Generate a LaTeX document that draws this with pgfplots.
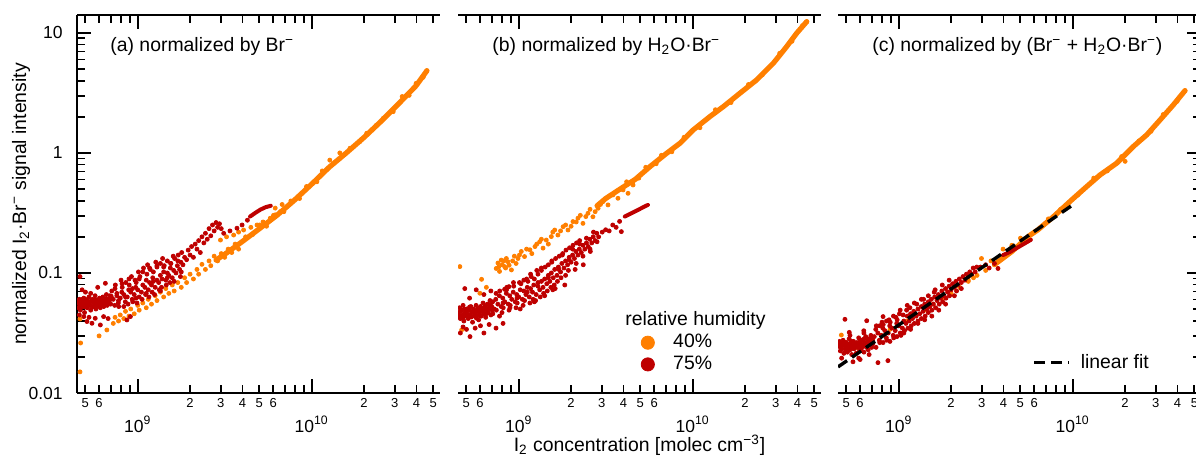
\documentclass[border=0pt]{standalone}
\usepackage{fontspec}
\setmainfont{Liberation Sans}
\usepackage{pgfplots}
\pgfplotsset{compat=1.18}
\definecolor{rh40}{HTML}{FF7F00}
\definecolor{rh75}{HTML}{BE0000}
\newcommand{\fs}{\fontsize{9.7}{11.6}\selectfont}
\newcommand{\mn}[1]{{\fontsize{6.5}{7}\selectfont\rule{0pt}{7.25pt}#1}}
\newcommand{\mj}[1]{{\fontsize{8.75}{10}\selectfont\rule{0pt}{19.5pt}10\textsuperscript{#1}}}
\tikzset{fitline/.style={black, line width=1.7pt, dash pattern=on 5.5pt off 3pt}}
\pgfplotsset{
  dots40/.style={only marks, mark=*, mark size=1pt, color=rh40, mark options={draw=none, fill=rh40}},
  dots75/.style={only marks, mark=*, mark size=1pt, color=rh75, mark options={draw=none, fill=rh75}},
  band/.style={mark=none, line width=2.6pt, line join=round, line cap=round},
}
\begin{document}
\begin{tikzpicture}
% ---------------- (a) ----------------
\begin{axis}[
    scale only axis, width=181.5pt, height=189pt,
    xmode=log, ymode=log,
    xmin=4.48e8, xmax=5.46e10, ymin=0.01, ymax=14.1,
    at={(38.5pt,32.5pt)}, clip marker paths=true,
    axis x line=box, axis y line=left,
    axis line style={-, line width=1pt},
    tick align=inside,
    major tick length=7pt, minor tick length=4pt,
    tick style={black, line width=0.9pt},
    xtick={1e9,1e10}, xticklabels={\mj{9},\mj{10}},
    minor xtick={7e8,8e8,9e8,7e9,8e9,9e9},
    extra x ticks={5e8,6e8,2e9,3e9,4e9,5e9,6e9,2e10,3e10,4e10,5e10},
    extra x tick labels={\mn{5},\mn{6},\mn{2},\mn{3},\mn{4},\mn{5},\mn{6},\mn{2},\mn{3},\mn{4},\mn{5}},
    extra x tick style={major tick length=4pt},
    xticklabel style={inner sep=0pt, anchor=north},
    ytick={0.01,0.1,1,10},
    minor ytick={0.02,0.03,0.04,0.05,0.06,0.07,0.08,0.09,0.2,0.3,0.4,0.5,0.6,0.7,0.8,0.9,2,3,4,5,6,7,8,9},
    yticklabels={0.01,0.1,1,10},
    yticklabel style={inner sep=0pt, xshift=-7pt, font=\fontsize{8.75}{10}\selectfont},
    ylabel={normalized I\textsubscript{2}·Br\textsuperscript{−} signal intensity},
    ylabel style={at={(axis description cs:-0.1543,0.5)}, anchor=center, font=\fs}]
\addplot[band, rh40] coordinates {(2.82e9,0.128) (3.16e9,0.143) (3.98e9,0.182) (5.01e9,0.234) (6.31e9,0.302) (7.94e9,0.403) (1.0e10,0.550) (1.26e10,0.760) (1.58e10,1.0) (2.0e10,1.349) (2.51e10,1.841) (3.16e10,2.570) (3.98e10,3.631) (4.59e10,4.842)};
\addplot[dots40] coordinates {
(4.66e8,0.0414) (4.70e8,0.0261) (4.66e8,0.0150) (6.00e8,0.0299) (6.65e8,0.0335)
(7.24e8,0.0380) (7.41e8,0.0427) (7.76e8,0.0398) (7.94e8,0.0447) (8.32e8,0.0417) (8.51e8,0.0479) (8.91e8,0.0437) (9.12e8,0.0501) (9.55e8,0.0457) (1.00e9,0.0537) (1.02e9,0.0490) (1.07e9,0.0562) (1.12e9,0.0513) (1.15e9,0.0603) (1.20e9,0.0550) (1.26e9,0.0646) (1.29e9,0.0589) (1.35e9,0.0692) (1.41e9,0.0631) (1.45e9,0.0741) (1.51e9,0.0676) (1.58e9,0.0794) (1.62e9,0.0708) (1.70e9,0.0832) (1.78e9,0.0759) (1.86e9,0.0912) (1.91e9,0.0832) (2.00e9,0.0977) (2.09e9,0.0891) (2.19e9,0.107) (2.24e9,0.0977) (2.34e9,0.118) (2.45e9,0.107) (2.57e9,0.126) (2.63e9,0.115) (2.75e9,0.138) (2.88e9,0.126) (3.02e9,0.145) (3.16e9,0.135) (3.31e9,0.158) (3.47e9,0.148) (3.63e9,0.174) (3.80e9,0.158)
(2.99e9,0.188) (3.24e9,0.200) (3.56e9,0.207) (3.80e9,0.219) (4.06e9,0.228) (4.47e9,0.240) (4.85e9,0.251) (5.25e9,0.266) (5.78e9,0.286) (6.17e9,0.305) (6.61e9,0.324) (6.17e9,0.347) (6.76e9,0.372)
(4.17e9,0.200) (4.57e9,0.209) (5.01e9,0.251) (5.50e9,0.245) (6.03e9,0.302) (6.92e9,0.324) (7.59e9,0.398) (8.51e9,0.417) (9.33e9,0.525) (1.07e10,0.575) (1.15e10,0.708) (1.27e10,0.871) (1.45e10,1.0) (1.66e10,1.094) (1.89e10,1.242) (2.07e10,1.459) (2.36e10,1.710) (2.58e10,1.945) (2.94e10,2.208) (3.31e10,2.951) (3.63e10,3.02) (3.98e10,3.80) (4.37e10,4.27) (4.59e10,4.84)};
\addplot[dots75] coordinates {
(4.52e8,0.0562) (4.57e8,0.0513) (4.62e8,0.0603) (4.68e8,0.0490) (4.73e8,0.0550) (4.79e8,0.0575) (4.84e8,0.0525) (4.90e8,0.0617) (4.95e8,0.0468) (5.01e8,0.0550) (5.07e8,0.0589) (5.13e8,0.0513) (5.19e8,0.0562) (5.25e8,0.0631) (5.31e8,0.0537) (5.37e8,0.0490) (5.43e8,0.0575) (5.50e8,0.0603) (5.56e8,0.0525) (5.62e8,0.0550) (5.69e8,0.0646) (5.75e8,0.0501) (5.82e8,0.0562) (5.89e8,0.0589) (5.96e8,0.0537) (6.03e8,0.0617) (6.10e8,0.0513) (6.17e8,0.0575) (6.24e8,0.0550) (6.31e8,0.0631) (6.38e8,0.0525) (6.46e8,0.0589) (6.53e8,0.0562) (6.61e8,0.0661) (6.68e8,0.0537) (6.76e8,0.0603) (6.84e8,0.0575) (6.92e8,0.0646) (7.00e8,0.0550) (7.08e8,0.0617)
(4.55e8,0.0590) (4.65e8,0.0530) (4.76e8,0.0600) (4.87e8,0.0560) (4.98e8,0.0520) (5.10e8,0.0600) (5.22e8,0.0540) (5.34e8,0.0580) (5.46e8,0.0520) (5.59e8,0.0570) (5.72e8,0.0600) (5.85e8,0.0530) (5.99e8,0.0560) (6.13e8,0.0600) (6.27e8,0.0540) (6.42e8,0.0570) (6.57e8,0.0610) (6.72e8,0.0560) (6.88e8,0.0590) (7.04e8,0.0640)
(4.90e8,0.0433) (5.11e8,0.0394) (5.46e8,0.0381) (5.70e8,0.0419) (6.10e8,0.0369) (6.37e8,0.0433) (8.67e8,0.0406) (9.08e8,0.0433) (4.62e8,0.0447) (5.25e8,0.0427) (6.76e8,0.0417)
(4.66e8,0.0933) (5.01e8,0.0692) (5.37e8,0.0676) (5.89e8,0.0759) (6.52e8,0.0820) (4.79e8,0.0724)
(7.24e8,0.0603) (7.38e8,0.0537) (7.10e8,0.0708)
(7.59e8,0.0646) (7.74e8,0.0562) (7.44e8,0.0794)
(7.94e8,0.0617) (8.10e8,0.0692) (7.78e8,0.0525) (8.02e8,0.0871)
(8.32e8,0.0661) (8.49e8,0.0575) (8.15e8,0.0759)
(8.71e8,0.0631) (8.88e8,0.0724) (8.54e8,0.0832) (8.80e8,0.0550)
(9.12e8,0.0692) (9.30e8,0.0603) (8.94e8,0.0794) (9.21e8,0.0933)
(9.55e8,0.0661) (9.74e8,0.0759) (9.36e8,0.0575) (9.65e8,0.0871)
(1.00e9,0.0724) (1.02e9,0.0631) (0.98e9,0.0832) (1.01e9,0.102) (0.99e9,0.0562)
(1.05e9,0.0692) (1.07e9,0.0794) (1.03e9,0.0933) (1.06e9,0.0603)
(1.10e9,0.0759) (1.12e9,0.0871) (1.08e9,0.110) (1.11e9,0.0661)
(1.15e9,0.0724) (1.17e9,0.0832) (1.13e9,0.0977) (1.16e9,0.0631) (1.14e9,0.117)
(1.20e9,0.0794) (1.22e9,0.0912) (1.18e9,0.107) (1.21e9,0.0692)
(1.26e9,0.0759) (1.29e9,0.0871) (1.23e9,0.102) (1.27e9,0.123) (1.25e9,0.0661)
(1.32e9,0.0832) (1.35e9,0.0955) (1.29e9,0.112) (1.33e9,0.0724)
(1.38e9,0.0891) (1.41e9,0.102) (1.35e9,0.120) (1.39e9,0.132) (1.37e9,0.0759)
(1.45e9,0.0871) (1.48e9,0.100) (1.42e9,0.115) (1.46e9,0.0794)
(1.51e9,0.0955) (1.54e9,0.110) (1.48e9,0.126) (1.53e9,0.0832)
(1.58e9,0.0912) (1.61e9,0.105) (1.55e9,0.120) (1.60e9,0.138)
(1.66e9,0.100) (1.69e9,0.115) (1.63e9,0.132)
(1.74e9,0.107) (1.77e9,0.123) (1.71e9,0.141) (1.76e9,0.0933)
(1.82e9,0.117) (1.86e9,0.135) (1.79e9,0.148)
(7.41e8,0.0741) (7.76e8,0.0589) (8.13e8,0.0813) (8.51e8,0.0631) (8.91e8,0.0891) (9.33e8,0.0741) (9.77e8,0.0617) (1.02e9,0.0891) (1.07e9,0.102) (1.12e9,0.0676) (1.17e9,0.110) (1.23e9,0.0851) (1.29e9,0.115) (1.35e9,0.0708) (1.41e9,0.112) (1.48e9,0.0912) (1.55e9,0.120) (1.62e9,0.0851) (1.70e9,0.126) (1.78e9,0.102) (7.59e8,0.0676) (8.32e8,0.0525)
(1.91e9,0.129) (1.95e9,0.155) (2.00e9,0.141) (2.04e9,0.166) (2.09e9,0.135) (2.14e9,0.174) (2.19e9,0.158) (2.24e9,0.186) (2.29e9,0.148) (2.34e9,0.200) (2.40e9,0.178) (2.45e9,0.214) (2.51e9,0.191) (2.57e9,0.234) (2.63e9,0.204) (2.69e9,0.251) (2.75e9,0.224) (2.82e9,0.263) (2.88e9,0.240) (2.95e9,0.257) (3.02e9,0.234)
(3.12e9,0.214) (3.39e9,0.224) (3.72e9,0.236) (3.98e9,0.251) (4.27e9,0.275)};
\addplot[mark=none, rh75, line width=2pt, line cap=round] coordinates {(4.42e9,0.295) (4.73e9,0.316) (5.07e9,0.337) (5.43e9,0.353) (5.82e9,0.363)};
\node[anchor=base west, font=\fs, inner sep=0pt] at (axis description cs:0.0909,0.903) {(a) normalized by Br\textsuperscript{−}};
\end{axis}
% ---------------- (b) ----------------
\begin{axis}[
    scale only axis, width=181.5pt, height=189pt,
    xmode=log, ymode=log,
    xmin=4.48e8, xmax=5.46e10, ymin=0.01, ymax=14.1,
    at={(229pt,32.5pt)}, clip marker paths=true,
    axis x line=box, axis y line=none,
    axis line style={-, line width=1pt},
    tick align=inside,
    major tick length=7pt, minor tick length=4pt,
    tick style={black, line width=0.9pt},
    xtick={1e9,1e10}, xticklabels={\mj{9},\mj{10}},
    minor xtick={7e8,8e8,9e8,7e9,8e9,9e9},
    extra x ticks={5e8,6e8,2e9,3e9,4e9,5e9,6e9,2e10,3e10,4e10,5e10},
    extra x tick labels={\mn{5},\mn{6},\mn{2},\mn{3},\mn{4},\mn{5},\mn{6},\mn{2},\mn{3},\mn{4},\mn{5}},
    extra x tick style={major tick length=4pt},
    xticklabel style={inner sep=0pt, anchor=north},
    ytick=\empty,
    xlabel={I\textsubscript{2} concentration [molec cm\textsuperscript{−3}]},
    xlabel style={at={(axis description cs:0.5,-0.156)}, anchor=base, inner sep=0pt, font=\fs},
    legend image code/.code={\fill[#1] (0pt,0pt) circle (3.3pt);},
    legend cell align=left,
    legend style={at={(axis description cs:0.5025,0.156)}, anchor=north west, draw=none, fill=none, inner sep=0pt, row sep=2.6pt, column sep=9.2pt, font=\fs, nodes={inner sep=0pt}}]
\addlegendimage{rh40}
\addlegendentry{40\%}
\addlegendimage{rh75}
\addlegendentry{75\%}
\addplot[band, rh40] coordinates {(2.82e9,0.363) (3.16e9,0.417) (3.98e9,0.519) (4.68e9,0.603) (5.68e9,0.769) (7.08e9,0.993) (8.45e9,1.205) (1.007e10,1.556) (1.256e10,2.009) (1.50e10,2.432) (1.866e10,3.141) (2.328e10,4.055) (2.904e10,5.585) (3.467e10,7.691) (3.954e10,9.93) (4.519e10,12.42)};
\addplot[dots40] coordinates {
(4.59e8,0.113) (6.12e8,0.0885) (6.52e8,0.0759) (5.98e8,0.0678) (4.70e8,0.0335)
(7.43e8,0.109) (7.60e8,0.121) (7.94e8,0.128) (8.30e8,0.113) (8.67e8,0.124) (9.08e8,0.106) (7.76e8,0.103) (8.49e8,0.132) (9.91e8,0.132) (1.035e9,0.151) (1.08e9,0.137) (1.16e9,0.156) (1.24e9,0.166) (1.32e9,0.182) (1.38e9,0.161) (1.44e9,0.188) (1.54e9,0.201) (1.61e9,0.228) (1.68e9,0.207) (1.80e9,0.243) (1.92e9,0.228) (2.05e9,0.268) (2.19e9,0.286) (2.34e9,0.259) (2.50e9,0.314) (2.67e9,0.294) (2.86e9,0.346) (3.05e9,0.393) (3.26e9,0.369) (3.48e9,0.447) (3.72e9,0.419) (3.98e9,0.492) (4.25e9,0.461) (4.54e9,0.541)
(7.67e8,0.112) (8.04e8,0.117) (8.22e8,0.126) (8.41e8,0.110) (8.81e8,0.116) (9.23e8,0.126) (9.44e8,0.138) (9.66e8,0.120) (1.01e9,0.141) (1.11e9,0.158) (1.19e9,0.145) (1.27e9,0.174) (1.35e9,0.191) (1.48e9,0.174) (1.57e9,0.219) (1.74e9,0.224) (1.86e9,0.251) (2.0e9,0.245) (2.14e9,0.266) (2.26e9,0.302) (2.43e9,0.295) (2.57e9,0.339) (2.75e9,0.324) (2.95e9,0.372)
(4.17e9,0.575) (4.90e9,0.617) (5.37e9,0.759) (6.17e9,0.813) (6.61e9,0.955) (7.59e9,1.023) (8.91e9,1.349) (1.10e10,1.622) (1.35e10,2.291) (1.66e10,2.630) (2.09e10,3.715) (2.51e10,4.467) (3.16e10,6.761) (3.72e10,8.511) (4.27e10,11.48) (4.52e10,12.4)};
\addplot[dots75] coordinates {
(4.52e8,0.0468) (4.57e8,0.0513) (4.62e8,0.0417) (4.68e8,0.0490) (4.73e8,0.0447) (4.79e8,0.0537) (4.84e8,0.0398) (4.90e8,0.0468) (4.95e8,0.0437) (5.01e8,0.0501) (5.07e8,0.0457) (5.13e8,0.0417) (5.19e8,0.0490) (5.25e8,0.0447) (5.31e8,0.0525) (5.37e8,0.0468) (5.43e8,0.0389) (5.50e8,0.0501) (5.56e8,0.0437) (5.62e8,0.0479) (5.69e8,0.0537) (5.75e8,0.0447) (5.82e8,0.0501) (5.89e8,0.0407) (5.96e8,0.0468) (6.03e8,0.0525) (6.10e8,0.0437) (6.17e8,0.0490) (6.24e8,0.0562) (6.31e8,0.0457) (6.38e8,0.0513) (6.46e8,0.0427) (6.53e8,0.0490) (6.61e8,0.0550) (6.68e8,0.0468) (6.76e8,0.0513) (6.84e8,0.0589) (6.92e8,0.0447) (7.00e8,0.0525) (7.08e8,0.0575)
(4.55e8,0.0440) (4.65e8,0.0480) (4.76e8,0.0420) (4.87e8,0.0500) (4.98e8,0.0470) (5.10e8,0.0440) (5.22e8,0.0520) (5.34e8,0.0430) (5.46e8,0.0480) (5.59e8,0.0450) (5.72e8,0.0420) (5.85e8,0.0480) (5.99e8,0.0440) (6.13e8,0.0510) (6.27e8,0.0470) (6.42e8,0.0530) (6.57e8,0.0460) (6.72e8,0.0500) (6.88e8,0.0540) (7.04e8,0.0490)
(4.62e8,0.0316) (4.79e8,0.0355) (5.01e8,0.0339) (5.25e8,0.0295) (5.62e8,0.0347) (6.03e8,0.0363) (6.31e8,0.0316) (6.76e8,0.0372) (7.41e8,0.0347) (8.13e8,0.0380)
(4.90e8,0.0741) (5.22e8,0.0617) (5.70e8,0.0724) (6.31e8,0.0661) (6.92e8,0.0708) (8.30e8,0.0731) (8.79e8,0.0769)
(7.24e8,0.0501) (7.38e8,0.0603) (7.10e8,0.0457)
(7.59e8,0.0550) (7.74e8,0.0646) (7.44e8,0.0490)
(7.94e8,0.0525) (8.10e8,0.0617) (7.78e8,0.0708) (8.02e8,0.0468)
(8.32e8,0.0575) (8.49e8,0.0676) (8.15e8,0.0513)
(8.71e8,0.0550) (8.88e8,0.0646) (8.54e8,0.0759) (8.80e8,0.0490)
(9.12e8,0.0603) (9.30e8,0.0692) (8.94e8,0.0537)
(9.55e8,0.0575) (9.74e8,0.0661) (9.36e8,0.0776) (9.65e8,0.0513)
(1.00e9,0.0631) (1.02e9,0.0724) (0.98e9,0.0562) (1.01e9,0.0832)
(1.05e9,0.0603) (1.07e9,0.0708) (1.03e9,0.0813) (1.06e9,0.0537)
(1.10e9,0.0661) (1.12e9,0.0759) (1.08e9,0.0589) (1.11e9,0.0891)
(1.15e9,0.0631) (1.17e9,0.0741) (1.13e9,0.0851) (1.16e9,0.0562)
(1.20e9,0.0692) (1.22e9,0.0794) (1.18e9,0.0933) (1.21e9,0.0603)
(1.26e9,0.0661) (1.29e9,0.0776) (1.23e9,0.0891) (1.27e9,0.105) (1.25e9,0.0589)
(1.32e9,0.0724) (1.35e9,0.0851) (1.29e9,0.0977) (1.33e9,0.0631)
(1.38e9,0.0759) (1.41e9,0.0891) (1.35e9,0.105) (1.39e9,0.0676)
(1.45e9,0.0813) (1.48e9,0.0955) (1.42e9,0.112) (1.46e9,0.0708)
(1.51e9,0.0851) (1.54e9,0.100) (1.48e9,0.117) (1.53e9,0.0759)
(1.58e9,0.0912) (1.61e9,0.107) (1.55e9,0.123) (1.60e9,0.0794) (1.57e9,0.0724)
(1.66e9,0.0955) (1.69e9,0.112) (1.63e9,0.132) (1.67e9,0.0851)
(1.74e9,0.102) (1.77e9,0.120) (1.71e9,0.138) (1.75e9,0.0912)
(1.82e9,0.110) (1.86e9,0.126) (1.79e9,0.145) (1.84e9,0.0794)
(1.91e9,0.117) (1.95e9,0.135) (1.87e9,0.155) (1.93e9,0.105)
(2.00e9,0.123) (2.04e9,0.141) (1.96e9,0.162)
(2.09e9,0.132) (2.13e9,0.151) (2.05e9,0.170) (2.11e9,0.107)
(2.19e9,0.141) (2.23e9,0.158) (2.15e9,0.178)
(2.29e9,0.148) (2.34e9,0.170) (2.24e9,0.186)
(2.40e9,0.158) (2.45e9,0.178) (2.35e9,0.117)
(2.51e9,0.166) (2.56e9,0.191)
(2.63e9,0.178) (2.68e9,0.200) (2.58e9,0.151)
(2.75e9,0.186) (2.81e9,0.214)
(7.41e8,0.0676) (7.76e8,0.0437) (8.13e8,0.0562) (8.51e8,0.0724) (8.91e8,0.0513) (9.33e8,0.0832) (9.77e8,0.0617) (1.02e9,0.0501) (1.07e9,0.0871) (1.12e9,0.0692) (1.17e9,0.0977) (1.23e9,0.0575) (1.29e9,0.0832) (1.35e9,0.110) (1.41e9,0.0646) (1.48e9,0.0912) (1.55e9,0.126) (1.62e9,0.0741) (1.70e9,0.107) (1.78e9,0.141) (1.86e9,0.0955) (1.95e9,0.129) (2.04e9,0.158) (2.14e9,0.120) (2.24e9,0.174) (2.34e9,0.138) (2.45e9,0.195) (2.57e9,0.158) (2.69e9,0.219) (2.82e9,0.182)
(2.88e9,0.200) (3.02e9,0.219) (3.16e9,0.229) (3.31e9,0.224) (3.47e9,0.251) (3.63e9,0.240) (3.80e9,0.269) (3.89e9,0.221)};
\addplot[mark=none, rh75, line width=2pt, line cap=round] coordinates {(4.07e9,0.295) (4.47e9,0.316) (4.85e9,0.335) (5.19e9,0.353) (5.53e9,0.369)};
\node[anchor=base west, font=\fs, inner sep=0pt] at (axis description cs:0.0937,0.903) {(b) normalized by H\textsubscript{2}O·Br\textsuperscript{−}};
\node[anchor=base west, font=\fs, inner sep=0pt] at (axis description cs:0.46,0.1786) {relative humidity};
\end{axis}
% ---------------- (c) ----------------
\begin{axis}[
    scale only axis, width=181.5pt, height=189pt,
    xmode=log, ymode=log,
    xmin=4.48e8, xmax=5.46e10, ymin=0.01, ymax=14.1,
    at={(419pt,32.5pt)}, clip marker paths=true,
    axis x line=box, axis y line=right,
    axis line style={-, line width=1pt},
    tick align=inside,
    major tick length=7pt, minor tick length=4pt,
    tick style={black, line width=0.9pt},
    xtick={1e9,1e10}, xticklabels={\mj{9},\mj{10}},
    minor xtick={7e8,8e8,9e8,7e9,8e9,9e9},
    extra x ticks={5e8,6e8,2e9,3e9,4e9,5e9,6e9,2e10,3e10,4e10,5e10},
    extra x tick labels={\mn{5},\mn{6},\mn{2},\mn{3},\mn{4},\mn{5},\mn{6},\mn{2},\mn{3},\mn{4},\mn{5}},
    extra x tick style={major tick length=4pt},
    xticklabel style={inner sep=0pt, anchor=north},
    ytick={0.01,0.1,1,10},
    minor ytick={0.02,0.03,0.04,0.05,0.06,0.07,0.08,0.09,0.2,0.3,0.4,0.5,0.6,0.7,0.8,0.9,2,3,4,5,6,7,8,9},
    yticklabels={,,,},
    legend image code/.code={\draw[#1] (0pt,0pt) -- (17.5pt,0pt);},
    legend cell align=left,
    legend style={at={(axis description cs:0.5344,0.1037)}, anchor=north west, draw=none, fill=none, inner sep=0pt, column sep=5pt, font=\fs, nodes={inner sep=0pt}}]
\addlegendimage{fitline}
\addlegendentry{linear fit}
\addplot[band, rh40] coordinates {(3.55e9,0.1175) (4.47e9,0.151) (5.62e9,0.204) (6.31e9,0.229) (7.74e9,0.294) (9.86e9,0.406) (1.202e10,0.524) (1.436e10,0.656) (1.786e10,0.820) (2.228e10,1.130) (2.661e10,1.413) (3.177e10,1.884) (3.784e10,2.512) (4.416e10,3.304)};
\addplot[dots40] coordinates {
(4.68e8,0.0304) (5.75e8,0.0240) (6.31e8,0.0263) (7.08e8,0.0282) (7.94e8,0.0302) (8.91e8,0.0339) (1.0e9,0.0363) (1.12e9,0.0398) (1.26e9,0.0447) (1.41e9,0.0490) (1.58e9,0.0550) (1.78e9,0.0617) (2.0e9,0.0676) (2.24e9,0.0759) (2.51e9,0.0851) (2.82e9,0.0955) (3.16e9,0.105) (3.55e9,0.117)
(2.99e9,0.132) (3.39e9,0.126) (2.51e9,0.0871) (2.69e9,0.0912) (3.98e9,0.158) (4.47e9,0.170) (5.01e9,0.195)
(7.24e9,0.282) (8.51e9,0.339) (1.07e10,0.447) (1.32e10,0.617) (1.58e10,0.708) (1.91e10,0.933) (2.0e10,0.851) (2.40e10,1.259) (2.82e10,1.514) (3.31e10,2.089) (3.98e10,2.692) (4.42e10,3.30)};
\addplot[dots75] coordinates {
(4.52e8,0.0245) (4.57e8,0.0269) (4.62e8,0.0224) (4.68e8,0.0257) (4.73e8,0.0234) (4.79e8,0.0275) (4.84e8,0.0214) (4.90e8,0.0251) (4.95e8,0.0229) (5.01e8,0.0263) (5.07e8,0.0219) (5.13e8,0.0240) (5.19e8,0.0282) (5.25e8,0.0229) (5.31e8,0.0257) (5.37e8,0.0209) (5.43e8,0.0245) (5.50e8,0.0269) (5.56e8,0.0234) (5.62e8,0.0251) (5.69e8,0.0214) (5.75e8,0.0263) (5.82e8,0.0240) (5.89e8,0.0288) (5.96e8,0.0224) (6.03e8,0.0257) (6.10e8,0.0234) (6.17e8,0.0275) (6.24e8,0.0245) (6.31e8,0.0219) (6.38e8,0.0263) (6.46e8,0.0295) (6.53e8,0.0240) (6.61e8,0.0269) (6.68e8,0.0229) (6.76e8,0.0282) (6.84e8,0.0251) (6.92e8,0.0302) (7.00e8,0.0240) (7.08e8,0.0275)
(4.55e8,0.0255) (4.65e8,0.0240) (4.76e8,0.0250) (4.87e8,0.0265) (4.98e8,0.0240) (5.10e8,0.0255) (5.22e8,0.0245) (5.34e8,0.0270) (5.46e8,0.0235) (5.59e8,0.0260) (5.72e8,0.0245) (5.85e8,0.0255) (5.99e8,0.0270) (6.13e8,0.0250) (6.27e8,0.0280) (6.42e8,0.0255) (6.57e8,0.0285) (6.72e8,0.0260) (6.88e8,0.0275) (7.04e8,0.0290)
(4.91e8,0.0411) (6.55e8,0.0400) (8.13e8,0.0433) (5.46e8,0.0182) (7.60e8,0.0179) (8.67e8,0.0186) (4.70e8,0.0195) (6.0e8,0.0190) (5.2e8,0.0320) (6.3e8,0.0330)
(7.24e8,0.0295) (7.38e8,0.0339) (7.10e8,0.0257)
(7.59e8,0.0316) (7.74e8,0.0275) (7.44e8,0.0363)
(7.94e8,0.0302) (8.10e8,0.0347) (7.78e8,0.0263) (8.02e8,0.0389)
(8.32e8,0.0331) (8.49e8,0.0288) (8.15e8,0.0372)
(8.71e8,0.0316) (8.88e8,0.0363) (8.54e8,0.0275) (8.80e8,0.0407)
(9.12e8,0.0347) (9.30e8,0.0302) (8.94e8,0.0389)
(9.55e8,0.0331) (9.74e8,0.0380) (9.36e8,0.0288) (9.65e8,0.0427)
(1.00e9,0.0363) (1.02e9,0.0316) (0.98e9,0.0407) (1.01e9,0.0457)
(1.05e9,0.0347) (1.07e9,0.0398) (1.03e9,0.0302) (1.06e9,0.0447)
(1.10e9,0.0380) (1.12e9,0.0437) (1.08e9,0.0331) (1.11e9,0.0490)
(1.15e9,0.0398) (1.17e9,0.0457) (1.13e9,0.0347) (1.16e9,0.0513)
(1.20e9,0.0417) (1.22e9,0.0479) (1.18e9,0.0363)
(1.26e9,0.0437) (1.29e9,0.0501) (1.23e9,0.0380) (1.27e9,0.0550)
(1.32e9,0.0457) (1.35e9,0.0525) (1.29e9,0.0398)
(1.38e9,0.0479) (1.41e9,0.0550) (1.35e9,0.0417) (1.39e9,0.0603)
(1.45e9,0.0501) (1.48e9,0.0575) (1.42e9,0.0437)
(1.51e9,0.0525) (1.54e9,0.0603) (1.48e9,0.0468)
(1.58e9,0.0550) (1.61e9,0.0631) (1.55e9,0.0490) (1.60e9,0.0692)
(1.66e9,0.0589) (1.69e9,0.0661) (1.63e9,0.0513)
(1.74e9,0.0617) (1.77e9,0.0708) (1.71e9,0.0550)
(1.82e9,0.0646) (1.86e9,0.0741) (1.79e9,0.0575)
(1.91e9,0.0692) (1.95e9,0.0776) (1.87e9,0.0617)
(2.00e9,0.0724) (2.04e9,0.0813) (1.96e9,0.0646)
(2.09e9,0.0759) (2.13e9,0.0851)
(2.19e9,0.0794) (2.23e9,0.0891) (2.15e9,0.0708)
(2.29e9,0.0832) (2.34e9,0.0933)
(2.40e9,0.0871) (2.45e9,0.0977)
(2.51e9,0.0933) (2.56e9,0.102)
(2.63e9,0.0977) (2.68e9,0.110)
(2.75e9,0.102) (2.81e9,0.112)
(7.41e8,0.0240) (7.76e8,0.0363) (8.13e8,0.0263) (8.51e8,0.0398) (8.91e8,0.0269) (9.33e8,0.0437) (9.77e8,0.0295) (1.02e9,0.0490) (1.07e9,0.0316) (1.12e9,0.0537) (1.17e9,0.0339) (1.23e9,0.0562) (1.29e9,0.0380) (1.35e9,0.0603) (1.41e9,0.0407) (1.48e9,0.0646) (1.55e9,0.0437) (1.62e9,0.0724) (1.70e9,0.0490) (1.78e9,0.0794) (1.86e9,0.0550) (1.95e9,0.0871) (2.09e9,0.0646) (2.29e9,0.0741) (6.31e8,0.0316) (5.89e8,0.0195) (5.25e8,0.0302) (6.76e8,0.0209)
(2.95e9,0.112) (3.16e9,0.117) (3.31e9,0.110) (3.55e9,0.120) (3.72e9,0.109)};
\addplot[mark=none, rh75, line width=2pt, line cap=round] coordinates {(3.98e9,0.141) (4.37e9,0.150) (4.79e9,0.162) (5.25e9,0.175) (5.75e9,0.189)};
\addplot[fitline] coordinates {(4.48e8,0.0165) (1.0e10,0.369)};
\node[anchor=base west, font=\fs, inner sep=0pt] at (axis description cs:0.0937,0.903) {(c) normalized by (Br\textsuperscript{−} + H\textsubscript{2}O·Br\textsuperscript{−})};
\end{axis}
\pgfresetboundingbox
\path[use as bounding box] (0pt,0pt) rectangle (598pt,229pt);
\end{tikzpicture}
\end{document}
